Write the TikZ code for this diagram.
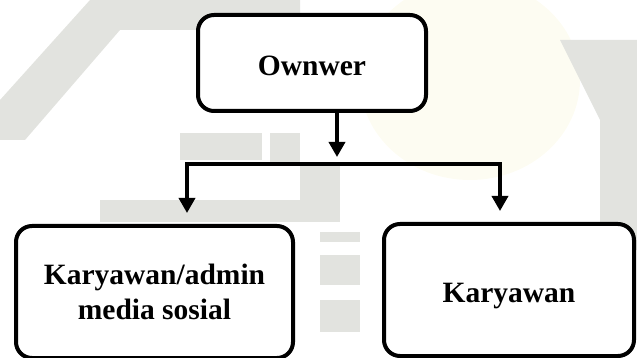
\documentclass[tikz,border=0pt]{standalone}
\usepackage{fontspec}
\setmainfont{Liberation Serif}
\usetikzlibrary{arrows.meta}
\definecolor{wmgray}{HTML}{E2E3DF}
\definecolor{wmyel}{HTML}{FDFCF2}
\begin{document}
\begin{tikzpicture}[x=1pt,y=-1pt,
  box/.style={draw=black, line width=4pt, rounded corners=16pt, fill=white,
    font=\bfseries\fontsize{29.5}{35}\selectfont, align=center, inner sep=0pt},
  conn/.style={draw=black, line width=3.5pt, -{Triangle[length=15pt,width=16pt]}},
  wm/.style={fill=wmgray, draw=none}]
\useasboundingbox (0,0) rectangle (637,358);
% faint watermark
\fill[wmyel] (470,80) ellipse (110pt and 100pt);
\fill[wm] (90,0) -- (300,0) -- (300,30) -- (120,30) -- (25,140) -- (0,140) -- (0,100) -- cycle;
\fill[wm] (180,133) rectangle (262,160);
\fill[wm] (270,133) rectangle (300,163);
\fill[wm] (100,200) -- (340,200) -- (340,222) -- (100,222) -- cycle;
\fill[wm] (300,165) rectangle (340,200);
\fill[wm] (320,232) rectangle (360,242);
\fill[wm] (320,255) rectangle (360,285);
\fill[wm] (320,300) rectangle (360,332);
\fill[wm] (560,40) -- (637,40) -- (637,250) -- (600,250) -- (600,120) -- cycle;
% boxes
\node[box, minimum width=228pt, minimum height=96pt, text height=30pt, text depth=4pt] (own) at (312,63) {Ownwer};
\node[box, minimum width=277pt, minimum height=132pt] (adm) at (154.5,292) {Karyawan/admin\\media sosial};
\node[box, minimum width=250pt, minimum height=132pt, text height=26pt, text depth=2pt] (kar) at (509,290) {Karyawan};
% junction points
\coordinate (j) at (337,164);
\coordinate (hl) at (187,164);
\coordinate (hr) at (500,164);
% connectors
\draw[conn] (own.south -| j) -- ([yshift=7pt]j);
\draw[conn, shorten >=11pt] (hr) -- (hl) -- (hl |- adm.north);
\draw[conn, shorten >=11pt] (hl) -- (hr) -- (hr |- kar.north);
\end{tikzpicture}
\end{document}
